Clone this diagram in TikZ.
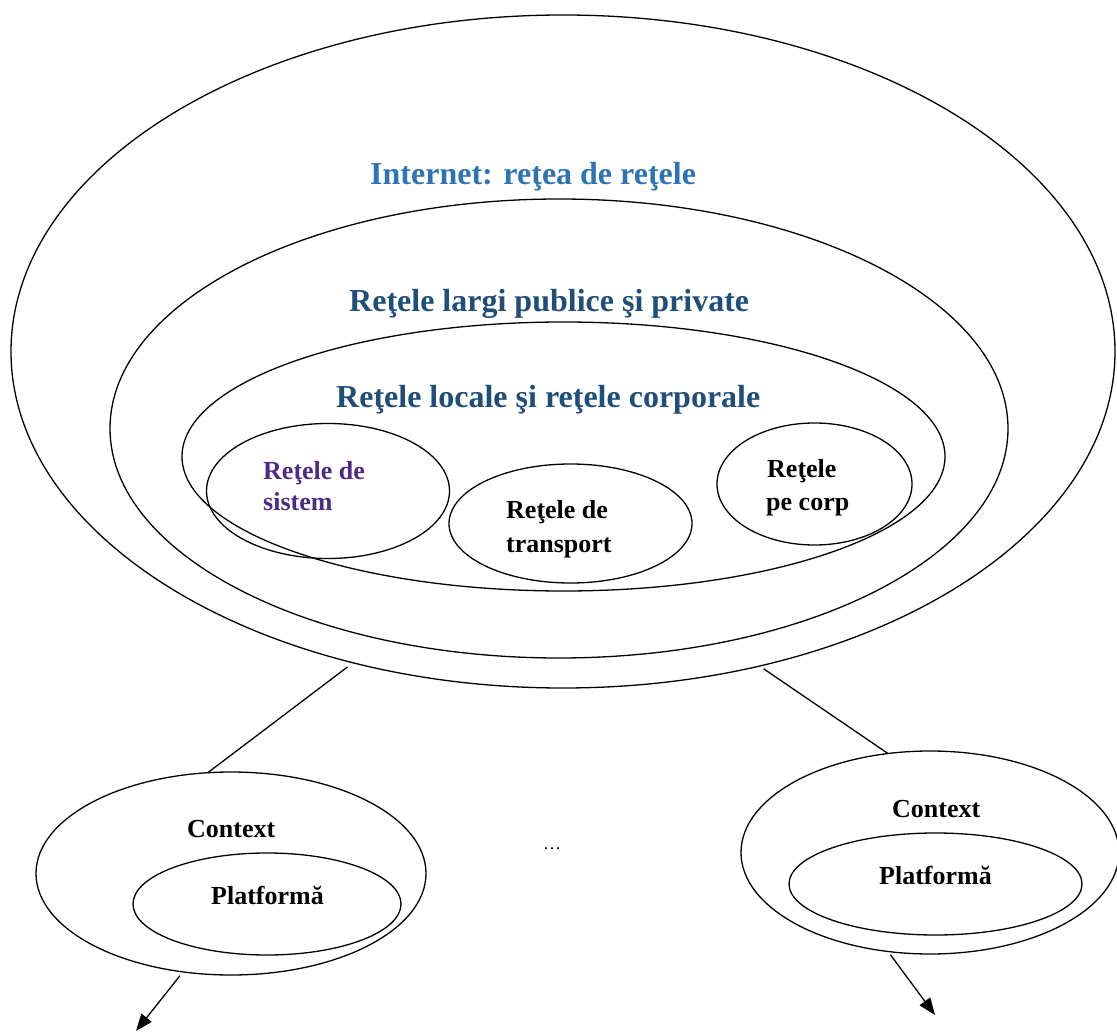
\documentclass[tikz,border=0pt]{standalone}
\usepackage{fontspec}
\setmainfont{Liberation Serif}
\usetikzlibrary{shapes.geometric,arrows.meta}
\definecolor{netblue}{HTML}{2E74B5}
\definecolor{wanblue}{HTML}{1F4E79}
\definecolor{syspurple}{HTML}{4E2A84}
\begin{document}
\begin{tikzpicture}[x=1pt,y=-1pt,
  ring/.style={draw, ellipse, line width=1.3pt, inner sep=0pt, outer sep=0pt},
  headlabel/.style={font=\fontsize{32}{38}\selectfont\bfseries, inner sep=0pt, anchor=base west},
  smalllabel/.style={font=\fontsize{26}{31}\selectfont\bfseries, inner sep=0pt, anchor=base west},
  link/.style={line width=1.3pt},
  pointer/.style={line width=1.3pt, -{Triangle[length=17pt,width=13pt]}}]
\useasboundingbox (0,0) rectangle (1117,1032);

% nested network levels
\node[ring, minimum width=1104pt, minimum height=673pt] (internet) at (563,351.5) {};
\node[ring, minimum width=898pt, minimum height=459pt] (wan) at (559,428.5) {};
\node[ring, minimum width=763pt, minimum height=269pt] (lan) at (563.5,456.5) {};
\node[ring, minimum width=243pt, minimum height=135pt] (sys) at (328,491) {};
\node[ring, minimum width=243pt, minimum height=119pt] (trans) at (570.5,523.5) {};
\node[ring, minimum width=195pt, minimum height=122pt] (body) at (814.5,484) {};

% headings
\node[headlabel, text=netblue] (tInternet) at (370,185) {Internet: reţea de reţele};
\node[headlabel, text=wanblue] (tWan) at (349,312) {Reţele largi publice şi private};
\node[headlabel, text=wanblue] (tLan) at (336,407) {Reţele locale şi reţele corporale};

% inner network labels
\node[smalllabel, text=syspurple] (tSysA) at (263,479) {Reţele de};
\node[smalllabel, text=syspurple] (tSysB) at (263,510) {sistem};
\node[smalllabel] (tTransA) at (506,518) {Reţele de};
\node[smalllabel] (tTransB) at (506,552) {transport};
\node[smalllabel] (tBodyA) at (767,477) {Reţele};
\node[smalllabel] (tBodyB) at (766,510) {pe corp};

% context / platform pairs
\node[ring, minimum width=390pt, minimum height=203pt] (ctxL) at (231,873.5) {};
\node[ring, minimum width=268pt, minimum height=102pt] (platL) at (267,904) {};
\node[ring, minimum width=378pt, minimum height=203pt] (ctxR) at (930,852.5) {};
\node[ring, minimum width=293pt, minimum height=102pt] (platR) at (935.5,884) {};

\node[smalllabel] (tCtxL) at (187,837) {Context};
\node[smalllabel] (tPlatL) at (211,904) {Platformă};
\node[smalllabel] (tCtxR) at (892,817) {Context};
\node[smalllabel] (tPlatR) at (879,884) {Platformă};

\node[font=\fontsize{18}{22}\selectfont, inner sep=0pt, anchor=base] (dots) at (552,849) {…};

% connectors
\draw[link, shorten <=7pt] (internet.236.4) -- (ctxL.103.7);
\draw[link, shorten <=5pt] (internet.302.6) -- (ctxR.113);

\coordinate (endL) at (136,1031);
\coordinate (endR) at (935,1015);
\draw[pointer, shorten <=5pt] (ctxL.244.2) -- (endL);
\draw[pointer, shorten <=4pt] (ctxR.247.2) -- (endR);
\end{tikzpicture}
\end{document}
